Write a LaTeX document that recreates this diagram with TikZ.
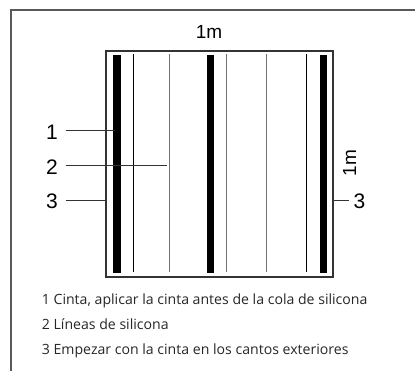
\documentclass[tikz,border=0pt]{standalone}
\usepackage{fontspec}
\setmainfont{Liberation Sans}
\newfontfamily\legendfont{Open Sans}
\begin{document}
\begin{tikzpicture}[x=1pt,y=-1pt,
  frame/.style={draw=black!65,line width=1.2pt},
  sqbox/.style={draw=black!80,line width=1.3pt},
  tape/.style={fill=black},
  sil/.style={draw=black!55,line width=0.9pt},
  silb/.style={draw=black,line width=0.8pt},
  lead/.style={draw=black!80,line width=0.9pt},
  lab/.style={font=\fontsize{21}{21}\selectfont,inner sep=0pt},
  dim/.style={font=\fontsize{19}{19}\selectfont,inner sep=0pt},
  legend/.style={font=\legendfont\fontsize{14.1}{14.1}\selectfont,text=black!85,anchor=base west,inner sep=0pt}]
\useasboundingbox (0,0) rectangle (415,371);
% outer frame
\draw[frame] (11,371) -- (11,10) -- (415,10);
% square
\draw[sqbox] (106,51) rectangle (333,277);
% tapes
\fill[tape] (113.3,55.3) rectangle (120.7,272.7);
\fill[tape] (207,55.3) rectangle (214,272.7);
\fill[tape] (319.7,55.3) rectangle (327,272.7);
% silicone lines
\draw[silb] (133.7,54.3) -- (133.7,271.7);
\draw[sil] (169,54.3) -- (169,271.7);
\draw[sil] (226.7,54.3) -- (226.7,271.7);
\draw[sil] (266.7,54.3) -- (266.7,271.7);
\draw[silb] (306.7,54.3) -- (306.7,271.7);
% labels
\node[lab] (l1) at (52,132.5) {1};
\node[lab] (l2) at (52,167) {2};
\node[lab] (l3) at (52,201.5) {3};
\node[lab] (r3) at (359.5,201) {3};
\node[dim] (top) at (209,31.5) {1m};
\node[dim,rotate=90] (side) at (349.5,163) {1m};
\coordinate (e1) at (115,130.7);
\coordinate (e2) at (166.7,165);
\coordinate (e3) at (106,200.3);
\coordinate (e4) at (333,200.3);
\draw[lead] (65.7,130.7) -- (e1);
\draw[lead] (65.7,165) -- (e2);
\draw[lead] (65.7,200.3) -- (e3);
\draw[lead] (e4) -- (348.5,200.3);
% legend
\node[legend] (t1) at (41.7,305) {1 Cinta, aplicar la cinta antes de la cola de silicona};
\node[legend] (t2) at (41.7,329.5) {2 Líneas de silicona};
\node[legend] (t3) at (41.7,354) {3 Empezar con la cinta en los cantos exteriores};
\end{tikzpicture}
\end{document}
